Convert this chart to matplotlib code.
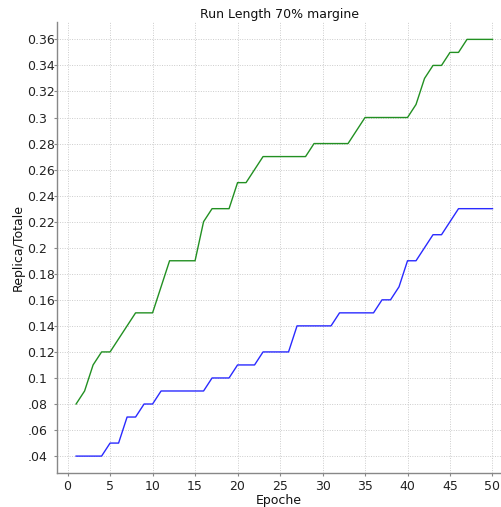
import matplotlib
matplotlib.use("Agg")
import matplotlib.pyplot as plt

epochs = list(range(1, 51))

green_series = [0.08, 0.09, 0.11, 0.12, 0.12, 0.13, 0.14, 0.15, 0.15, 0.15,
                0.17, 0.19, 0.19, 0.19, 0.19, 0.22, 0.23, 0.23, 0.23, 0.25,
                0.25, 0.26, 0.27, 0.27, 0.27, 0.27, 0.27, 0.27, 0.28, 0.28,
                0.28, 0.28, 0.28, 0.29, 0.30, 0.30, 0.30, 0.30, 0.30, 0.30,
                0.31, 0.33, 0.34, 0.34, 0.35, 0.35, 0.36, 0.36, 0.36, 0.36]

blue_series = [0.04, 0.04, 0.04, 0.04, 0.05, 0.05, 0.07, 0.07, 0.08, 0.08,
               0.09, 0.09, 0.09, 0.09, 0.09, 0.09, 0.10, 0.10, 0.10, 0.11,
               0.11, 0.11, 0.12, 0.12, 0.12, 0.12, 0.14, 0.14, 0.14, 0.14,
               0.14, 0.15, 0.15, 0.15, 0.15, 0.15, 0.16, 0.16, 0.17, 0.19,
               0.19, 0.20, 0.21, 0.21, 0.22, 0.23, 0.23, 0.23, 0.23, 0.23]

y_ticks = [0.04, 0.06, 0.08, 0.10, 0.12, 0.14, 0.16, 0.18, 0.20, 0.22,
           0.24, 0.26, 0.28, 0.30, 0.32, 0.34, 0.36]
y_tick_labels = [".04", ".06", ".08", "0.1", "0.12", "0.14", "0.16", "0.18",
                 "0.2", "0.22", "0.24", "0.26", "0.28", "0.3", "0.32", "0.34",
                 "0.36"]
x_ticks = [0, 5, 10, 15, 20, 25, 30, 35, 40, 45, 50]

plt.rcParams["font.family"] = ["DejaVu Sans"]

fig = plt.figure(figsize=(5.02, 5.07), dpi=100)
ax = fig.add_axes([0.114, 0.067, 0.884, 0.890])

ax.plot(epochs, green_series, color="#229022", lw=1.0)
ax.plot(epochs, blue_series, color="#2a2aff", lw=1.0)

ax.set_xlim(-1.22, 51.0)
ax.set_ylim(0.027, 0.3735)

ax.set_xticks(x_ticks)
ax.set_xticklabels([str(v) for v in x_ticks])
ax.set_yticks(y_ticks)
ax.set_yticklabels(y_tick_labels, ha="left")

ax.tick_params(axis="y", length=2, width=0.8, color="#888888", pad=19.6,
               labelsize=9, labelcolor="#222222")
ax.tick_params(axis="x", length=2, width=0.8, color="#888888", pad=3,
               labelsize=9, labelcolor="#222222")

for side in ("top", "right"):
    ax.spines[side].set_visible(False)
for side in ("left", "bottom"):
    ax.spines[side].set_color("#888888")
    ax.spines[side].set_linewidth(1.0)

ax.grid(True, color="#cccccc", linestyle=(0, (1, 1.5)), linewidth=0.7)
ax.set_axisbelow(True)

ax.set_title("Run Length 70% margine", fontsize=9, pad=3, color="#111111")
ax.set_xlabel("Epoche", fontsize=9, labelpad=1, color="#111111")
ax.set_ylabel("Replica/Totale", fontsize=9, labelpad=2, color="#111111")

fig.savefig("out.png", dpi=100)
